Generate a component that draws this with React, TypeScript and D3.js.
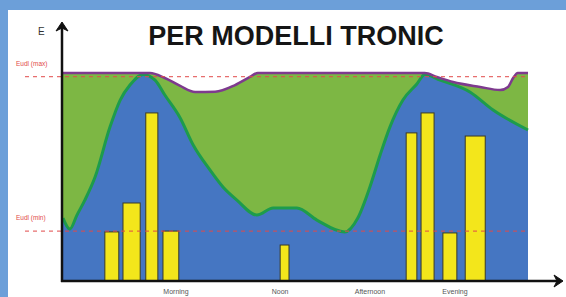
import { useRef, useEffect } from 'react';
import * as d3 from 'd3';

const W = 566;
const H = 297;
const PLOT = { left: 63, right: 528, top: 73, bottom: 281 };

const BG_BLUE = '#6c9fd9';
const FILL_BLUE = '#4576c2';
const FILL_GREEN = '#7db744';
const EDGE_GREEN = '#1d9c4c';
const TOP_PURPLE = '#7e3a8e';
const BAR_YELLOW = '#f3e61b';
const DASH_RED = '#e24b4b';

// energy ceiling (purple line), x = time of day (0-100), y = energy (0-100)
const TOP_LINE: [number, number][] = [
  [0, 100], [18.7, 100], [21.9, 97.6], [25.2, 93.8], [28.4, 90.9], [32.7, 91.0],
  [37.0, 94.2], [40.2, 98.1], [41.9, 100], [77.8, 100], [80.4, 98.1], [83.9, 95.7],
  [89.7, 93.3], [94.0, 91.8], [95.7, 93.3], [96.8, 97.6], [97.8, 100], [100, 100],
];

// blue / green boundary
const BLUE_EDGE: [number, number][] = [
  [0, 30.3], [1.5, 25.0], [3.0, 31.7], [4.7, 38.9], [6.9, 50.0], [10.1, 74.0],
  [12.3, 87.0], [14.4, 94.2], [17.2, 99.3], [19.8, 96.6], [21.9, 89.4], [25.2, 78.4],
  [28.0, 65.4], [31.6, 53.4], [34.4, 45.2], [37.4, 38.9], [41.7, 31.7], [45.2, 35.1],
  [50.3, 35.1], [54.6, 29.3], [60.6, 23.6], [63.4, 30.3], [66.0, 45.2], [68.2, 60.6],
  [70.3, 74.0], [73.1, 87.0], [76.1, 94.7], [77.8, 99.3], [81.1, 96.6], [87.5, 90.9],
  [92.5, 82.2], [100, 72.6],
];

const BAR_START = [9.0, 12.9, 17.8, 21.5, 46.7, 73.8, 77.0, 81.7, 86.5];
const BAR_END = [12.0, 16.6, 20.4, 24.9, 48.6, 76.1, 79.8, 84.7, 90.8];
const BAR_VALUE = [23.6, 37.5, 80.8, 24.0, 17.3, 71.2, 80.8, 23.1, 69.7];

const PERIODS = ['Morning', 'Noon', 'Afternoon', 'Evening'];
const PERIOD_POS = [24.3, 46.7, 66.0, 84.3];

const EUDL_LABELS = ['Eudl (max)', 'Eudl (min)'];
const EUDL_VALUES = [98.3, 24.0];

function EnergyChart() {
  const svgRef = useRef<SVGSVGElement>(null);

  useEffect(() => {
    const svg = d3.select(svgRef.current);
    svg.selectAll('*').remove();

    const x = d3.scaleLinear().domain([0, 100]).range([PLOT.left, PLOT.right]);
    const y = d3.scaleLinear().domain([0, 100]).range([PLOT.bottom, PLOT.top]);

    // frame
    svg.append('rect').attr('width', W).attr('height', H).attr('fill', BG_BLUE);
    svg.append('rect').attr('x', 8).attr('y', 10).attr('width', W - 8).attr('height', H - 10).attr('fill', '#fff');

    svg.append('text')
      .attr('x', 296).attr('y', 45)
      .attr('text-anchor', 'middle')
      .attr('font-family', 'Liberation Sans, Arial, sans-serif')
      .attr('font-weight', 700)
      .attr('font-size', 27)
      .attr('fill', '#151515')
      .text('PER MODELLI TRONIC');

    const g = svg.append('g');

    // green zone under the ceiling
    const area = d3.area<[number, number]>()
      .x(d => x(d[0])).y0(y(0)).y1(d => y(d[1]))
      .curve(d3.curveMonotoneX);
    g.append('path').datum(TOP_LINE).attr('d', area).attr('fill', FILL_GREEN);

    // blue zone
    g.append('path').datum(BLUE_EDGE).attr('d', area).attr('fill', FILL_BLUE);

    const edge = d3.line<[number, number]>()
      .x(d => x(d[0])).y(d => y(d[1]))
      .curve(d3.curveMonotoneX);
    g.append('path').datum(BLUE_EDGE).attr('d', edge)
      .attr('fill', 'none').attr('stroke', EDGE_GREEN).attr('stroke-width', 3);

    g.append('path').datum(TOP_LINE).attr('d', edge)
      .attr('fill', 'none').attr('stroke', TOP_PURPLE).attr('stroke-width', 2.5);

    // bars
    g.selectAll('.bar')
      .data(BAR_VALUE)
      .join('rect')
      .attr('class', 'bar')
      .attr('x', (_, i) => x(BAR_START[i]))
      .attr('y', d => y(d))
      .attr('width', (_, i) => x(BAR_END[i]) - x(BAR_START[i]))
      .attr('height', d => y(0) - y(d))
      .attr('fill', BAR_YELLOW)
      .attr('stroke', '#3a3a26')
      .attr('stroke-width', 1);

    // Eudl thresholds
    EUDL_VALUES.forEach((v, i) => {
      svg.append('line')
        .attr('x1', 25).attr('x2', x(100))
        .attr('y1', y(v)).attr('y2', y(v))
        .attr('stroke', DASH_RED)
        .attr('stroke-width', 1.3)
        .attr('stroke-dasharray', '4,4')
        .attr('opacity', 0.8);
      svg.append('text')
        .attr('x', 16).attr('y', y(v) - 11)
        .attr('font-family', 'Liberation Sans, Arial, sans-serif')
        .attr('font-size', 6.5)
        .attr('fill', DASH_RED)
        .text(EUDL_LABELS[i]);
    });

    // axes
    const axisColor = '#111';
    const yAxisX = PLOT.left - 1;
    svg.append('line')
      .attr('x1', yAxisX).attr('x2', yAxisX)
      .attr('y1', y(0) + 1).attr('y2', 26)
      .attr('stroke', axisColor).attr('stroke-width', 2.5);
    svg.append('path')
      .attr('d', `M${yAxisX - 6},31 L${yAxisX},22 L${yAxisX + 6},31 L${yAxisX},28 Z`)
      .attr('fill', axisColor).attr('stroke', axisColor).attr('stroke-width', 1);

    const xAxisEnd = 563;
    svg.append('line')
      .attr('x1', yAxisX - 1).attr('x2', xAxisEnd - 3)
      .attr('y1', y(0)).attr('y2', y(0))
      .attr('stroke', axisColor).attr('stroke-width', 2.5);
    svg.append('path')
      .attr('d', `M${xAxisEnd - 9},${y(0) - 6} L${xAxisEnd},${y(0)} L${xAxisEnd - 9},${y(0) + 6} L${xAxisEnd - 6},${y(0)} Z`)
      .attr('fill', axisColor).attr('stroke', axisColor).attr('stroke-width', 1);

    svg.append('text')
      .attr('x', 38).attr('y', 35)
      .attr('font-family', 'Liberation Sans, Arial, sans-serif')
      .attr('font-size', 10)
      .attr('fill', '#333')
      .text('E');

    // period labels
    svg.append('g')
      .selectAll('text')
      .data(PERIODS)
      .join('text')
      .attr('x', (_, i) => x(PERIOD_POS[i]))
      .attr('y', 294)
      .attr('text-anchor', 'middle')
      .attr('font-family', 'Liberation Sans, Arial, sans-serif')
      .attr('font-size', 7)
      .attr('fill', '#555')
      .text(d => d);
  }, []);

  return (
    <svg ref={svgRef} width={W} height={H}
      style={{ position: 'fixed', left: 0, top: 0, display: 'block' }} />
  );
}

export default function App() {
  return <EnergyChart />;
}
